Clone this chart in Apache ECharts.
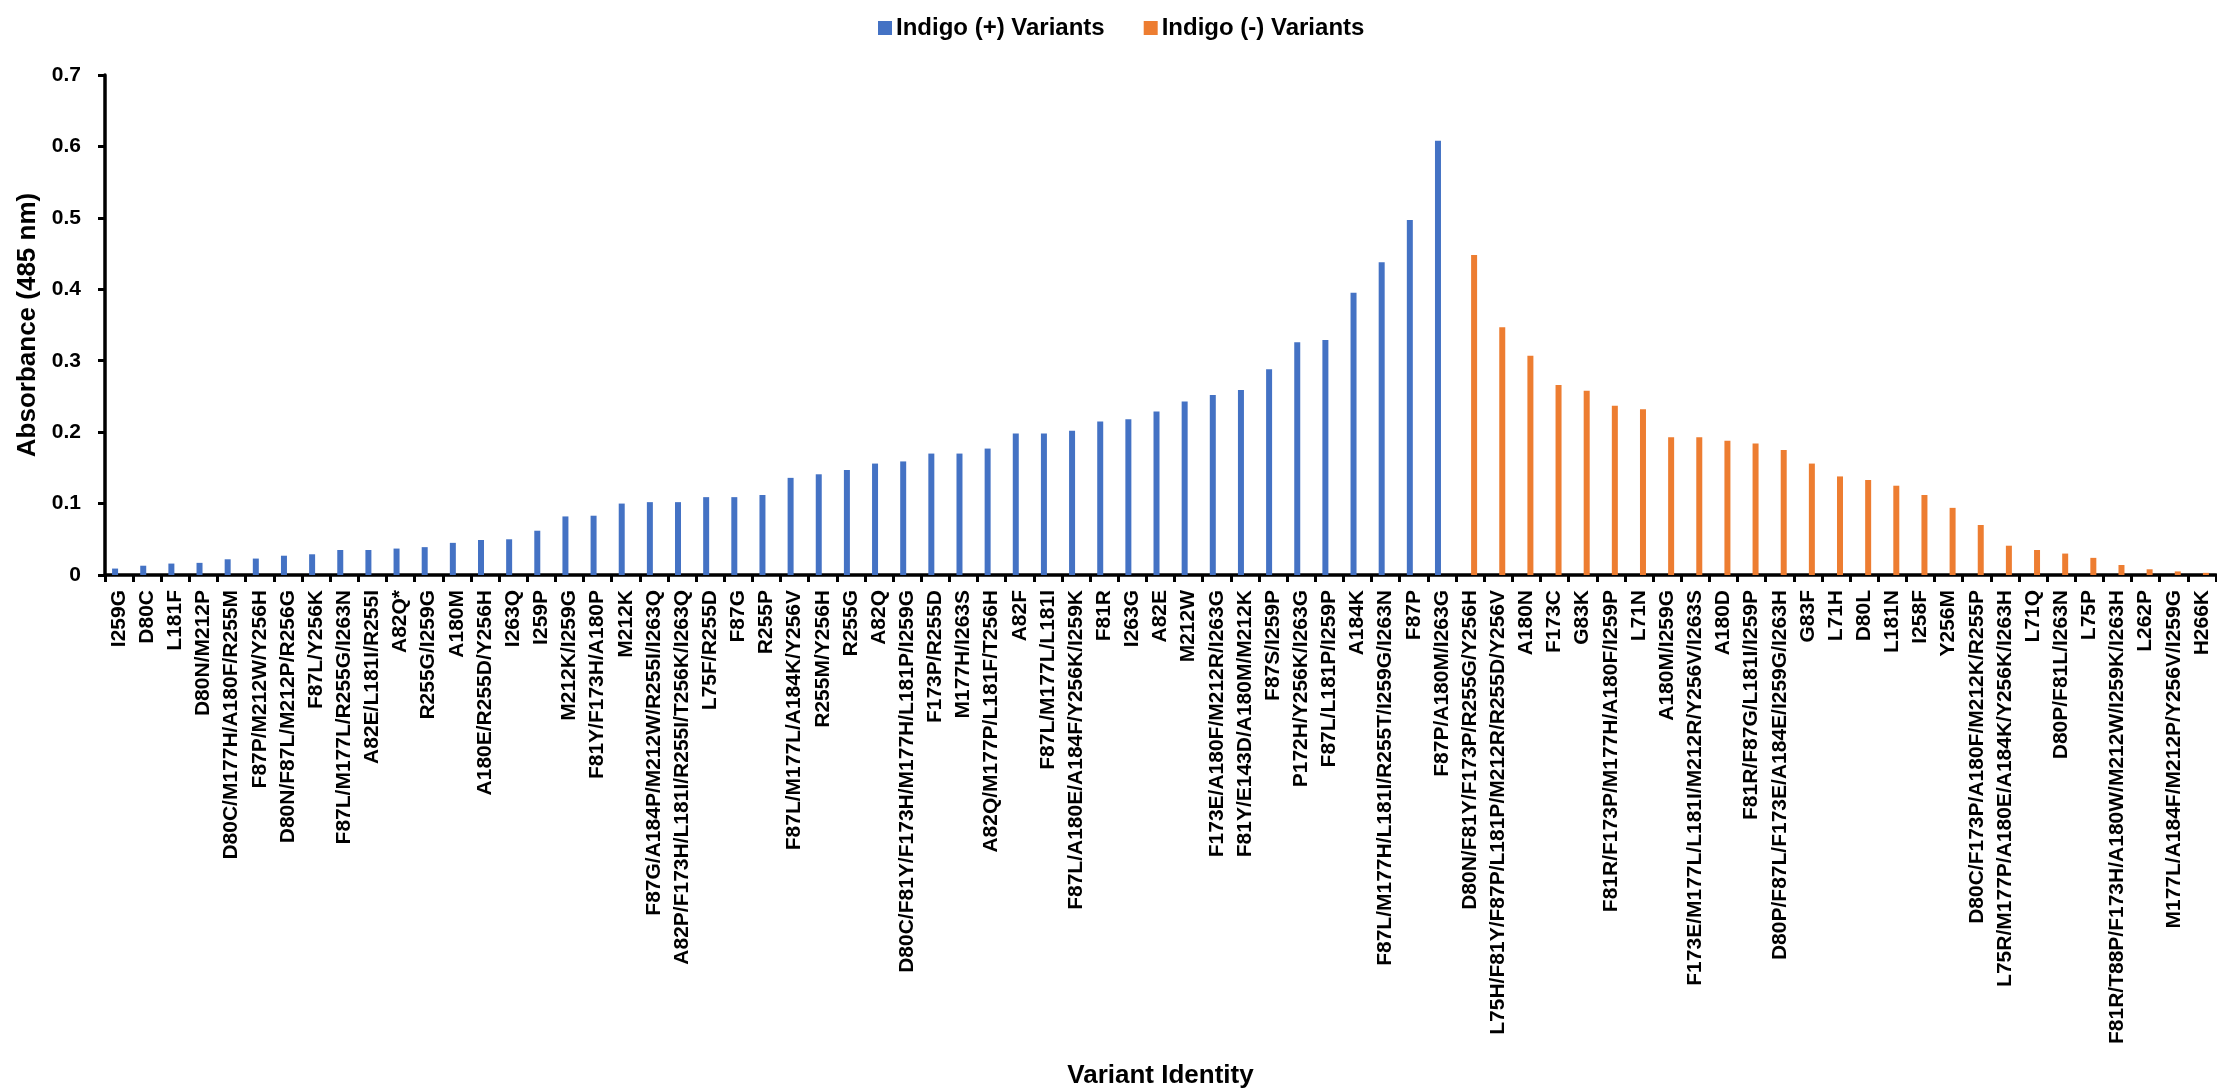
<!DOCTYPE html>
<html>
<head>
<meta charset="utf-8">
<script src="https://cdn.jsdelivr.net/npm/echarts@6/dist/echarts.min.js"></script>
<style>
  html, body { margin: 0; padding: 0; background: #fff; }
  #chart { width: 2217px; height: 1090px; }
</style>
</head>
<body>
<div id="chart"></div>
<script>
// Variants that produced indigo, ordered by absorbance
const indigoPlusNames = [
  'I259G', 'D80C', 'L181F', 'D80N/M212P', 'D80C/M177H/A180F/R255M',
  'F87P/M212W/Y256H', 'D80N/F87L/M212P/R256G', 'F87L/Y256K', 'F87L/M177L/R255G/I263N',
  'A82E/L181I/R255I', 'A82Q*', 'R255G/I259G', 'A180M', 'A180E/R255D/Y256H', 'I263Q',
  'I259P', 'M212K/I259G', 'F81Y/F173H/A180P', 'M212K', 'F87G/A184P/M212W/R255I/I263Q',
  'A82P/F173H/L181I/R255I/T256K/I263Q', 'L75F/R255D', 'F87G', 'R255P',
  'F87L/M177L/A184K/Y256V', 'R255M/Y256H', 'R255G', 'A82Q',
  'D80C/F81Y/F173H/M177H/L181P/I259G', 'F173P/R255D', 'M177H/I263S',
  'A82Q/M177P/L181F/T256H', 'A82F', 'F87L/M177L/L181I', 'F87L/A180E/A184F/Y256K/I259K',
  'F81R', 'I263G', 'A82E', 'M212W', 'F173E/A180F/M212R/I263G', 'F81Y/E143D/A180M/M212K',
  'F87S/I259P', 'P172H/Y256K/I263G', 'F87L/L181P/I259P', 'A184K',
  'F87L/M177H/L181I/R255T/I259G/I263N', 'F87P', 'F87P/A180M/I263G'
];
const indigoPlusValues = [
  0.009, 0.013, 0.016, 0.017, 0.022, 0.023, 0.027, 0.029, 0.035, 0.035,
  0.037, 0.039, 0.045, 0.049, 0.050, 0.062, 0.082, 0.083, 0.100, 0.102,
  0.102, 0.109, 0.109, 0.112, 0.136, 0.141, 0.147, 0.156, 0.159, 0.170,
  0.170, 0.177, 0.198, 0.198, 0.202, 0.215, 0.218, 0.229, 0.243, 0.252,
  0.259, 0.288, 0.326, 0.329, 0.395, 0.438, 0.497, 0.608
];

// Variants without indigo formation, ordered by absorbance
const indigoMinusNames = [
  'D80N/F81Y/F173P/R255G/Y256H', 'L75H/F81Y/F87P/L181P/M212R/R255D/Y256V', 'A180N',
  'F173C', 'G83K', 'F81R/F173P/M177H/A180F/I259P', 'L71N', 'A180M/I259G',
  'F173E/M177L/L181I/M212R/Y256V/I263S', 'A180D', 'F81R/F87G/L181I/I259P',
  'D80P/F87L/F173E/A184E/I259G/I263H', 'G83F', 'L71H', 'D80L', 'L181N', 'I258F',
  'Y256M', 'D80C/F173P/A180F/M212K/R255P', 'L75R/M177P/A180E/A184K/Y256K/I263H',
  'L71Q', 'D80P/F81L/I263N', 'L75P', 'F81R/T88P/F173H/A180W/M212W/I259K/I263H',
  'L262P', 'M177L/A184F/M212P/Y256V/I259G', 'H266K'
];
const indigoMinusValues = [
  0.448, 0.347, 0.307, 0.266, 0.258, 0.237, 0.232, 0.193, 0.193, 0.188,
  0.184, 0.175, 0.156, 0.138, 0.133, 0.125, 0.112, 0.094, 0.070, 0.041,
  0.035, 0.030, 0.024, 0.014, 0.008, 0.005, 0.003
];

const yTicks = { min: 0, max: 0.7, interval: 0.1 };

// Both groups share one category axis; each series leaves the other group's slots empty
const categories = indigoPlusNames.concat(indigoMinusNames);
const plusSeries = indigoPlusValues.concat(indigoMinusNames.map(() => null));
const minusSeries = indigoPlusNames.map(() => null).concat(indigoMinusValues);

const FONT = '"Liberation Sans", Arial, sans-serif';
const chart = echarts.init(document.getElementById('chart'), null, { renderer: 'canvas' });

chart.setOption({
  animation: false,
  backgroundColor: '#ffffff',
  textStyle: { fontFamily: FONT, color: '#000' },
  legend: {
    top: 11,
    left: 873,
    itemWidth: 14,
    itemHeight: 14,
    itemGap: 39,
    icon: 'rect',
    textStyle: { fontFamily: FONT, fontSize: 24, fontWeight: 'bold', color: '#000', padding: [0, 0, 0, -1] },
    data: ['Indigo (+) Variants', 'Indigo (-) Variants']
  },
  grid: { left: 105, right: 1, top: 75, bottom: 514.5, containLabel: false },
  xAxis: {
    type: 'category',
    data: categories,
    name: 'Variant Identity',
    nameLocation: 'middle',
    nameGap: 488,
    nameTextStyle: { fontFamily: FONT, fontSize: 26, fontWeight: 'bold', color: '#000' },
    axisLine: { lineStyle: { color: '#000', width: 3.5 } },
    axisTick: { show: true, interval: 0, length: 7, lineStyle: { color: '#000', width: 3 } },
    axisLabel: {
      interval: 0,
      rotate: 90,
      margin: 15,
      fontFamily: FONT,
      fontSize: 21,
      fontWeight: 'bold',
      color: '#000'
    },
    splitLine: { show: false }
  },
  yAxis: {
    type: 'value',
    min: yTicks.min,
    max: yTicks.max,
    interval: yTicks.interval,
    name: 'Absorbance (485 nm)',
    nameLocation: 'middle',
    nameGap: 64,
    nameRotate: 90,
    nameTextStyle: { fontFamily: FONT, fontSize: 26, fontWeight: 'bold', color: '#000' },
    axisLine: { show: true, lineStyle: { color: '#000', width: 3.5 } },
    axisTick: { show: true, length: 7, lineStyle: { color: '#000', width: 3 } },
    axisLabel: { margin: 24, fontFamily: FONT, fontSize: 21, fontWeight: 'bold', color: '#000' },
    splitLine: { show: false }
  },
  series: [
    {
      name: 'Indigo (+) Variants',
      type: 'bar',
      data: plusSeries,
      barWidth: 6,
      barGap: '33%',
      itemStyle: { color: '#4472C4' }
    },
    {
      name: 'Indigo (-) Variants',
      type: 'bar',
      data: minusSeries,
      barWidth: 6,
      barGap: '33%',
      itemStyle: { color: '#ED7D31' }
    }
  ]
});
</script>
</body>
</html>
